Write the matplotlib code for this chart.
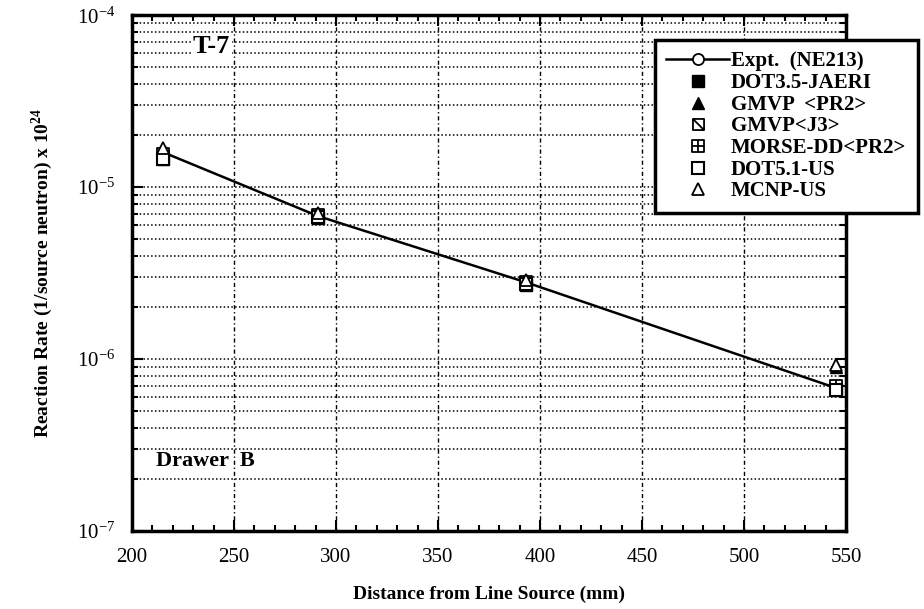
import numpy as np
import matplotlib
matplotlib.use("Agg")
import matplotlib.pyplot as plt
from matplotlib.path import Path
from matplotlib.ticker import LogLocator, MultipleLocator, NullFormatter

plt.rcParams['font.family'] = ['Liberation Serif', 'DejaVu Serif']
plt.rcParams['mathtext.fontset'] = 'custom'
plt.rcParams['mathtext.rm'] = 'Liberation Serif'
plt.rcParams['mathtext.bf'] = 'Liberation Serif:bold'
plt.rcParams['axes.unicode_minus'] = False

# data
distance = [215, 291, 393, 545]
expt = [1.6e-5, 6.8e-6, 2.8e-6, 6.8e-7]
dot35_jaeri = [1.45e-5, 6.6e-6, 2.7e-6, 6.6e-7]
gmvp_pr2 = [1.65e-5, 7.0e-6, 2.8e-6, 9.0e-7]
gmvp_j3 = [1.5e-5, 6.8e-6, 2.75e-6, 6.7e-7]
morse_dd = [1.55e-5, 6.9e-6, 2.8e-6, 7.0e-7]
dot51_us = [1.45e-5, 6.7e-6, 2.75e-6, 6.6e-7]
mcnp_us = [1.7e-5, 7.1e-6, 2.9e-6, 9.3e-7]

x_ticks = [200, 250, 300, 350, 400, 450, 500, 550]

# custom marker shapes
sq = [(-1, -1), (1, -1), (1, 1), (-1, 1), (-1, -1)]
sq_codes = [Path.MOVETO, Path.LINETO, Path.LINETO, Path.LINETO, Path.CLOSEPOLY]
diag_marker = Path(sq + [(-1, 1), (1, -1)], sq_codes + [Path.MOVETO, Path.LINETO])
cross_marker = Path(sq + [(0, -1), (0, 1), (-1, 0), (1, 0)],
                    sq_codes + [Path.MOVETO, Path.LINETO, Path.MOVETO, Path.LINETO])

fig = plt.figure(figsize=(9.24, 6.09), dpi=100)
ax = fig.add_axes([0.1429, 0.128, 0.7727, 0.847])

ms = 8
ax.plot(distance, expt, '-', color='black', lw=1.8, marker='o', ms=ms,
        mfc='white', mec='black', mew=1.3, label='Expt.  (NE213)', zorder=3)
ax.plot(distance, dot35_jaeri, 's', color='black', ms=ms, ls='none',
        label='DOT3.5-JAERI', zorder=4)
ax.plot(distance, gmvp_pr2, '^', color='black', ms=ms, ls='none',
        label='GMVP  <PR2>', zorder=4)
ax.plot(distance, gmvp_j3, marker=diag_marker, ms=ms, ls='none', mfc='white',
        mec='black', mew=1.3, label='GMVP<J3>', zorder=4)
ax.plot(distance, morse_dd, marker=cross_marker, ms=ms, ls='none', mfc='white',
        mec='black', mew=1.3, label='MORSE-DD<PR2>', zorder=4)
ax.plot(distance, dot51_us, 's', ms=ms, ls='none', mfc='white', mec='black',
        mew=1.5, label='DOT5.1-US', zorder=5)
ax.plot(distance, mcnp_us, '^', ms=ms, ls='none', mfc='white', mec='black',
        mew=1.3, label='MCNP-US', zorder=5)

ax.set_yscale('log')
ax.set_xlim(200, 550)
ax.set_ylim(1e-7, 1e-4)
ax.set_xticks(x_ticks)
ax.xaxis.set_minor_locator(MultipleLocator(10))
ax.yaxis.set_major_locator(LogLocator(base=10, numticks=10))
ax.yaxis.set_minor_locator(LogLocator(base=10, subs=np.arange(2, 10), numticks=20))
ax.yaxis.set_minor_formatter(NullFormatter())

ax.grid(True, which='major', axis='x', color='black', ls=(0, (3, 2, 1, 2)), lw=1.0)
ax.grid(True, which='both', axis='y', color='black', ls=(0, (1, 1.5)), lw=1.1)

ax.tick_params(which='both', direction='in', top=True, right=True,
               labelsize=15, pad=12, width=1.5)
ax.tick_params(which='major', length=8)
ax.tick_params(which='minor', length=4)
for s in ax.spines.values():
    s.set_linewidth(2.5)

ax.set_xlabel('Distance from Line Source (mm)', fontsize=14, fontweight='bold',
              labelpad=14)
ax.set_ylabel('Reaction Rate (1/source neutron) x 10$^{\\mathbf{24}}$', fontsize=14,
              fontweight='bold', labelpad=16)

ax.text(239, 6.6e-5, 'T-7', fontsize=19, fontweight='bold', ha='center', va='center',
        bbox=dict(facecolor='white', edgecolor='none', pad=1))
ax.text(236, 2.55e-7, 'Drawer  B', fontsize=16, fontweight='bold', ha='center',
        va='center')

leg = fig.legend(loc='upper left', bbox_to_anchor=(655 / 924, 1 - 40 / 609),
                 frameon=True, fancybox=False, framealpha=1, edgecolor='black',
                 prop={'weight': 'bold', 'size': 15}, labelspacing=0.08,
                 handlelength=3.0, handletextpad=0.1, borderpad=0.55,
                 borderaxespad=0)
leg.get_frame().set_linewidth(2.5)

fig.savefig('out.png', dpi=100)
